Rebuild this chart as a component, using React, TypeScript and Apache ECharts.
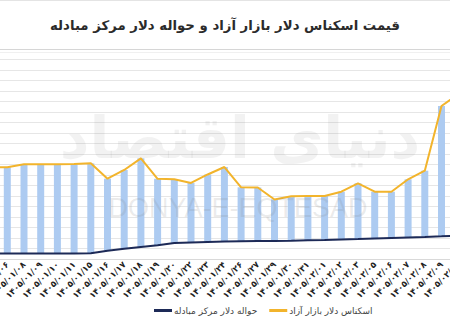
import React, { useEffect, useRef } from "react";
import * as echarts from "echarts";

const titleText = "قیمت اسکناس دلار بازار آزاد و حواله دلار مرکز مبادله";
const nameHavaleh = "حواله دلار مرکز مبادله";
const nameFree = "اسکناس دلار بازار آزاد";

const categories = [
  "۱۴۰۵/۰۱/۰۵", "۱۴۰۵/۰۱/۰۶", "۱۴۰۵/۰۱/۰۸", "۱۴۰۵/۰۱/۰۹", "۱۴۰۵/۰۱/۱۰",
  "۱۴۰۵/۰۱/۱۱", "۱۴۰۵/۰۱/۱۵", "۱۴۰۵/۰۱/۱۶", "۱۴۰۵/۰۱/۱۷", "۱۴۰۵/۰۱/۱۸",
  "۱۴۰۵/۰۱/۱۹", "۱۴۰۵/۰۱/۲۰", "۱۴۰۵/۰۱/۲۲", "۱۴۰۵/۰۱/۲۳", "۱۴۰۵/۰۱/۲۴",
  "۱۴۰۵/۰۱/۲۶", "۱۴۰۵/۰۱/۲۷", "۱۴۰۵/۰۱/۲۹", "۱۴۰۵/۰۱/۳۰", "۱۴۰۵/۰۱/۳۱",
  "۱۴۰۵/۰۲/۰۱", "۱۴۰۵/۰۲/۰۲", "۱۴۰۵/۰۲/۰۳", "۱۴۰۵/۰۲/۰۵", "۱۴۰۵/۰۲/۰۶",
  "۱۴۰۵/۰۲/۰۷", "۱۴۰۵/۰۲/۰۸", "۱۴۰۵/۰۲/۰۹", "۱۴۰۵/۰۲/۱۰",
];

const freeMarket = [
  87.6, 87.3, 90.2, 90.2, 90.2, 90.5, 91.1, 76.5, 84.8, 95.9,
  76.4, 75.9, 72.4, 80.5, 87.6, 68.3, 68.1, 56.7, 59.7, 60,
  60, 64.1, 72.1, 64.1, 64.1, 75.9, 84.1, 145.7, 157.1,
];

const havaleh = [
  5.2, 5.2, 5.2, 5.2, 5.2, 5.2, 5.4, 7.8, 9.7, 11.4,
  13.1, 15.2, 15.7, 16.2, 16.7, 16.9, 17.1, 17.1, 17.4, 17.8,
  18.1, 18.6, 19, 19.5, 20, 20.5, 21, 21.6, 22.4,
];

const yMax = 190;
const yStep = 10;

export default function App() {
  const ref = useRef<HTMLDivElement>(null);

  useEffect(() => {
    const chart = echarts.init(ref.current!, null, { renderer: "svg" });
    const gap = freeMarket.map((v, i) => +(v - havaleh[i]).toFixed(2));
    const font = "DejaVu Sans";

    chart.setOption({
      animation: false,
      backgroundColor: "#ffffff",
      title: {
        text: titleText,
        left: "center",
        top: 14,
        textStyle: {
          fontFamily: font,
          fontSize: 13.3,
          fontWeight: "bold",
          color: "#2b2b2b",
        },
      },
      graphic: [
        { type: "line", shape: { x1: 0, y1: 0.5, x2: 450, y2: 0.5 }, style: { stroke: "#e4e4e4", lineWidth: 1 } },
        { type: "line", shape: { x1: 0, y1: 49.5, x2: 450, y2: 49.5 }, style: { stroke: "#d6d6d6", lineWidth: 1 } },
        { type: "line", shape: { x1: 0, y1: 52.5, x2: 450, y2: 52.5 }, style: { stroke: "#f0f0f0", lineWidth: 1 } },
        {
          type: "text",
          x: 240,
          y: 138,
          z: 10,
          silent: true,
          style: {
            text: "دنیای اقتصاد",
            fontFamily: font,
            fontSize: 58,
            fontWeight: "bold",
            fill: "rgba(128,128,128,0.10)",
            align: "center",
            verticalAlign: "middle",
          },
        },
        {
          type: "text",
          x: 238,
          y: 208,
          z: 10,
          silent: true,
          style: {
            text: "DONYA-E-EQTESAD",
            fontFamily: "Liberation Sans",
            fontSize: 27,
            fill: "rgba(128,128,128,0.16)",
            align: "center",
            verticalAlign: "middle",
          },
        },
      ],
      legend: {
        data: [nameHavaleh, nameFree],
        left: 149,
        top: 301,
        align: "left",
        icon: "rect",
        itemWidth: 18,
        itemHeight: 3,
        itemGap: 12,
        textStyle: { fontFamily: font, fontSize: 9, color: "#444", padding: [0, 0, 0, -3] },
      },
      grid: {
        left: -17.75,
        right: -16.55,
        top: 59.5,
        bottom: 61,
        containLabel: false,
        outerBoundsMode: "none",
      },
      xAxis: {
        type: "category",
        data: categories,
        boundaryGap: true,
        axisTick: { show: false },
        axisLine: { show: true, lineStyle: { color: "#d9d9d9", width: 1 } },
        axisLabel: {
          interval: 0,
          rotate: 45,
          margin: 4,
          fontFamily: font,
          fontSize: 8.5,
          fontWeight: "bold",
          color: "#222",
        },
      },
      yAxis: {
        type: "value",
        min: 0,
        max: yMax,
        interval: yStep,
        axisLabel: { show: false },
        axisLine: { show: false },
        axisTick: { show: false },
        splitLine: { show: true, lineStyle: { color: "#e6e6e6", width: 1 } },
      },
      series: [
        {
          name: "base",
          type: "bar",
          stack: "s",
          data: havaleh,
          barWidth: 7,
          itemStyle: { color: "rgba(0,0,0,0)" },
          silent: true,
        },
        {
          name: "gap",
          type: "bar",
          stack: "s",
          data: gap,
          barWidth: 7,
          itemStyle: { color: "#adcbf1" },
        },
        {
          name: nameFree,
          type: "line",
          data: freeMarket,
          symbol: "none",
          z: 4,
          lineStyle: { color: "#f2b42c", width: 2 },
          itemStyle: { color: "#f2b42c" },
        },
        {
          name: nameHavaleh,
          type: "line",
          data: havaleh,
          symbol: "none",
          z: 5,
          lineStyle: { color: "#1d2a57", width: 2 },
          itemStyle: { color: "#1d2a57" },
        },
      ],
    });

    return () => chart.dispose();
  }, []);

  return (
    <div
      ref={ref}
      style={{ position: "fixed", left: 0, top: 0, width: 450, height: 320, background: "#fff" }}
    />
  );
}
